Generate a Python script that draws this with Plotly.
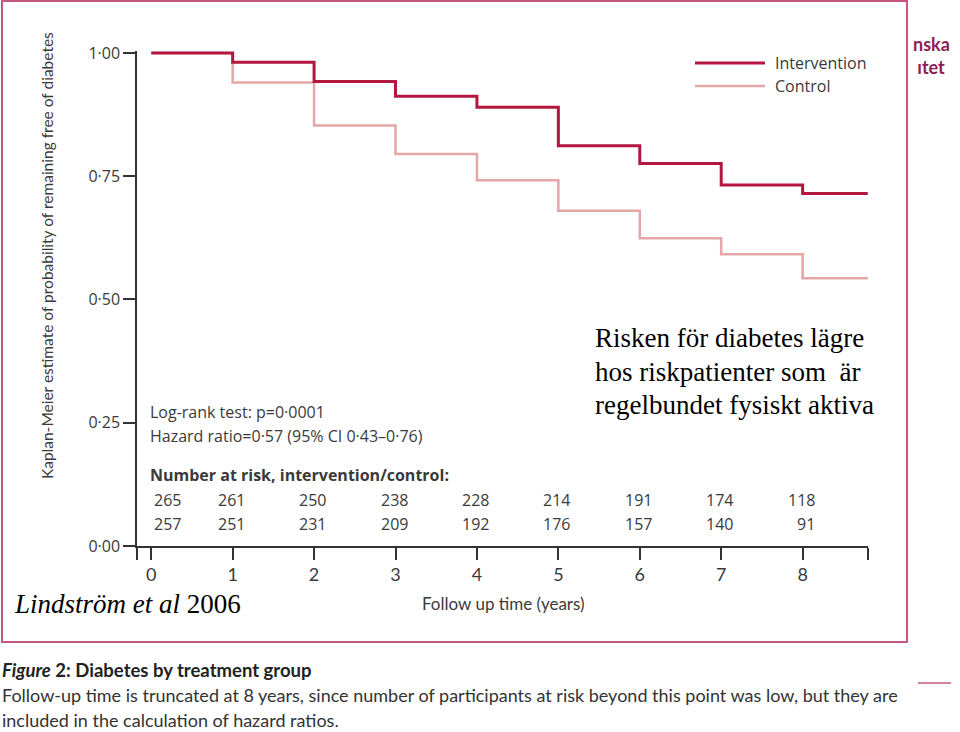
import plotly.graph_objects as go

# ---- data ----
years = [0, 1, 2, 3, 4, 5, 6, 7, 8]
end_year = 8.8
intervention = [1.000, 0.981, 0.942, 0.912, 0.890, 0.812, 0.776, 0.732, 0.715]
control = [1.000, 0.940, 0.853, 0.795, 0.742, 0.680, 0.624, 0.592, 0.543]
risk_intervention = [265, 261, 250, 238, 228, 214, 191, 174, 118]
risk_control = [257, 251, 231, 209, 192, 176, 157, 140, 91]
y_ticks = [0, 0.25, 0.5, 0.75, 1.0]
y_ticktext = ["0·00", "0·25", "0·50", "0·75", "1·00"]

C_INT = "#b3163f"
C_CTL = "#e4a6a6"
C_FRAME = "#c4577f"
TXT = "#3a3a3a"
SANS = "Open Sans, Lato, sans-serif"
NARROW = "Lato, Roboto, sans-serif"
SERIF = "Liberation Serif, Times New Roman, serif"

# plot area geometry in pixels
L, R, T, B = 137, 868, 51, 546
W, H = 960, 732


def px_x(px):
    return (px - L) / (R - L)


def px_y(py):
    return (B - py) / (B - T)


fig = go.Figure()
fig.add_trace(go.Scatter(x=years + [end_year], y=control + [control[-1]], mode="lines",
                         line=dict(color=C_CTL, width=2.5, shape="hv"), name="Control",
                         showlegend=False))
fig.add_trace(go.Scatter(x=years + [end_year], y=intervention + [intervention[-1]], mode="lines",
                         line=dict(color=C_INT, width=3, shape="hv"), name="Intervention",
                         showlegend=False))

x0 = -0.172
fig.update_xaxes(range=[-0.175, 8.803], tickvals=[x0] + years + [end_year],
                 ticktext=[""] + [str(v) for v in years] + [""],
                 showline=True, linecolor="#333", linewidth=1.5, ticks="outside", ticklen=12,
                 tickwidth=1.5, tickcolor="#333", showgrid=False, zeroline=False,
                 tickfont=dict(family=NARROW, size=18, color=TXT))
fig.update_yaxes(range=[0, 1.004], tickvals=y_ticks, ticktext=y_ticktext,
                 showline=True, linecolor="#333", linewidth=1.5, ticks="outside", ticklen=12,
                 tickwidth=1.5, tickcolor="#333", showgrid=False, zeroline=False,
                 tickfont=dict(family=SANS, size=16, color=TXT))

ann = []


def text(px, py, s, size=16, family=SANS, color=TXT, xanchor="left", angle=0):
    ann.append(dict(x=px_x(px), y=px_y(py), xref="paper", yref="paper", text=s, showarrow=False,
                    xanchor=xanchor, yanchor="middle", textangle=angle, align="left",
                    font=dict(family=family, size=size, color=color)))


text(47, 256, "Kaplan-Meier estimate of probability of remaining free of diabetes", size=15.5,
     family=NARROW, xanchor="center", angle=-90)
text(148, 412, "Log-rank test: p=0·0001")
text(148, 436, "Hazard ratio=0·57 (95% CI 0·43–0·76)")
text(148, 475, "<b>Number at risk, intervention/control:</b>")
for i, (a, b) in enumerate(zip(risk_intervention, risk_control)):
    shift = 32 if i == 0 else 14
    for val, py in ((a, 500), (b, 524)):
        ann.append(dict(x=years[i], y=px_y(py), xref="x", yref="paper", text=str(val),
                        showarrow=False, xanchor="right", yanchor="middle", xshift=shift,
                        font=dict(family=SANS, size=16, color=TXT)))
text(503, 603, "Follow up time (years)", size=17, family=NARROW, xanchor="center")

# legend
for py, name, col, w in ((63, "Intervention", C_INT, 3), (86, "Control", C_CTL, 2.5)):
    fig.add_shape(type="line", xref="paper", yref="paper", x0=px_x(695), x1=px_x(765),
                  y0=px_y(py), y1=px_y(py), line=dict(color=col, width=w))
    text(773, py, name)

# Swedish note
for py, s in ((338, "Risken för diabetes lägre"), (372, "hos riskpatienter som  är"),
              (405, "regelbundet fysiskt aktiva")):
    text(593, py, s, size=27, family=SERIF, color="#000")

text(12, 604, "<i>Lindström et al</i> 2006", size=27, family=SERIF, color="#000")

# frame
fig.add_shape(type="rect", xref="paper", yref="paper", x0=px_x(2), x1=px_x(907),
              y0=px_y(642), y1=px_y(1), line=dict(color=C_FRAME, width=2))

# logo fragment
text(911, 55, "<b>nska</b><br><b> ıtet</b>", size=18, family=NARROW, color="#8c1d55")
fig.add_shape(type="line", xref="paper", yref="paper", x0=px_x(918), x1=px_x(951),
              y0=px_y(683), y1=px_y(683), line=dict(color=C_FRAME, width=1.5))

# caption
text(0, 670, "<b><i>Figure</i> 2: Diabetes by treatment group</b>", size=18.5, family=NARROW,
     color="#222")
text(0, 695, "Follow-up time is truncated at 8 years, since number of participants at risk beyond "
             "this point was low, but they are", size=18, family=NARROW, color="#333")
text(0, 720, "included in the calculation of hazard ratios.", size=18, family=NARROW, color="#333")

fig.update_layout(width=W, height=H, margin=dict(l=L, r=W - R, t=T, b=H - B),
                  paper_bgcolor="white", plot_bgcolor="white", annotations=ann,
                  showlegend=False)
fig.write_html("out.html", config={"displayModeBar": False},
               post_script="document.body.style.margin='0px';")
